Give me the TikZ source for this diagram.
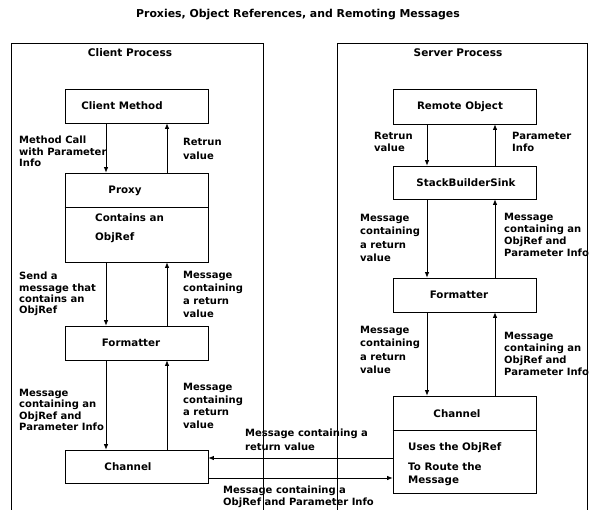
\documentclass[tikz,border=0pt]{standalone}
\usepackage{fontspec}
\setmainfont{DejaVu Sans}
\usetikzlibrary{arrows.meta,calc}
\begin{document}
\begin{tikzpicture}[x=1pt,y=-1pt,
  box/.style={draw,line width=0.8pt,minimum width=143pt,inner sep=0pt},
  txt/.style={inner sep=0pt,font=\fontsize{10.3}{12}\selectfont\bfseries},
  arr/.style={line width=0.7pt,-{Latex[length=5.5pt,width=4.5pt]}},
  lab/.style={font=\fontsize{10}{#1}\selectfont\bfseries,align=left,anchor=north west,inner sep=0pt},
  lab/.default=12,
  ttl/.style={font=\fontsize{10.5}{12}\selectfont\bfseries,inner sep=0pt},
  proc/.style={line width=0.8pt}]
\useasboundingbox (0,0) rectangle (596,510);
% title
\node[inner sep=0pt,font=\fontsize{10.9}{12}\selectfont\bfseries] (title) at (298,15) {Proxies, Object References, and Remoting Messages};
% process frames
\draw[proc] (11,510) -- (11,43) -- (263,43) -- (263,510);
\draw[proc] (337,510) -- (337,43) -- (587,43) -- (587,510);
\node[ttl] (cproc) at (130,53) {Client Process};
\node[ttl] (sproc) at (458,53) {Server Process};
% client boxes
\node[box,minimum height=34pt] (cm) at (136.5,106) {};
\node[txt] (cmt) at (122,106) {Client Method};
\node[box,minimum height=89pt] (proxy) at (136.5,217.5) {};
\coordinate (pdiv) at (0,207);
\draw[line width=0.8pt] (proxy.west |- pdiv) -- (proxy.east |- pdiv);
\node[txt] (proxyt) at (125,191) {Proxy};
\node[txt,anchor=west] (pc1) at (95,218) {Contains an};
\node[txt,anchor=west] (pc2) at (95,238) {ObjRef};
\node[box,minimum height=34pt] (cfmt) at (136.5,343) {};
\node[txt] (cfmtt) at (131,343) {Formatter};
\node[box,minimum height=33pt] (cchan) at (136.5,466.5) {};
\node[txt] (cchant) at (128,466.5) {Channel};
% server boxes
\node[box,minimum height=35pt] (ro) at (464.5,106.5) {};
\node[txt] (rot) at (460,106.5) {Remote Object};
\node[box,minimum height=33pt] (sbs) at (464.5,182.5) {};
\node[txt] (sbst) at (466,182.5) {StackBuilderSink};
\node[box,minimum height=34pt] (sfmt) at (464.5,295) {};
\node[txt] (sfmtt) at (459,295) {Formatter};
\node[box,minimum height=97pt] (schan) at (464.5,444.5) {};
\coordinate (sdiv) at (0,430);
\draw[line width=0.8pt] (schan.west |- sdiv) -- (schan.east |- sdiv);
\node[txt] (schant) at (457,414) {Channel};
\node[txt,anchor=west] (sc1) at (408,448) {Uses the ObjRef};
\node[txt,anchor=west] (sc2) at (408,467) {To Route the};
\node[txt,anchor=west] (sc3) at (408,481) {Message};
% client arrows
\coordinate (cx1) at (106,0);
\coordinate (cx2) at (167,0);
\draw[arr] (cm.south -| cx1) -- (proxy.north -| cx1);
\draw[arr] (proxy.north -| cx2) -- (cm.south -| cx2);
\draw[arr] (proxy.south -| cx1) -- (cfmt.north -| cx1);
\draw[arr] (cfmt.north -| cx2) -- (proxy.south -| cx2);
\draw[arr] (cfmt.south -| cx1) -- (cchan.north -| cx1);
\draw[arr] (cchan.north -| cx2) -- (cfmt.south -| cx2);
% server arrows
\coordinate (sx1) at (427,0);
\coordinate (sx2) at (495,0);
\draw[arr] (ro.south -| sx1) -- (sbs.north -| sx1);
\draw[arr] (sbs.north -| sx2) -- (ro.south -| sx2);
\draw[arr] (sbs.south -| sx1) -- (sfmt.north -| sx1);
\draw[arr] (sfmt.north -| sx2) -- (sbs.south -| sx2);
\draw[arr] (sfmt.south -| sx1) -- (schan.north -| sx1);
\draw[arr] (schan.north -| sx2) -- (sfmt.south -| sx2);
% channel to channel
\coordinate (hy1) at (0,458);
\coordinate (hy2) at (0,478);
\draw[arr] (schan.west |- hy1) -- (cchan.east |- hy1);
\draw[arr] (cchan.east |- hy2) -- (schan.west |- hy2);
% labels
\node[lab=11.5] (l1) at (19,136) {Method Call\\with Parameter\\Info};
\node[lab=14] (l2) at (183,138) {Retrun\\value};
\node[lab=11.3] (l3) at (19,272) {Send a\\message that\\contains an\\ObjRef};
\node[lab=13] (l4) at (183,271) {Message\\containing\\a return\\value};
\node[lab=11.3] (l5) at (19,389) {Message\\containing an\\ObjRef and\\Parameter Info};
\node[lab=12.7] (l6) at (183,383) {Message\\containing\\a return\\value};
\node[lab=12] (l7) at (374,132) {Retrun\\value};
\node[lab=12] (l8) at (512,132) {Parameter\\Info};
\node[lab=13.3] (l9) at (360,214) {Message\\containing\\a return\\value};
\node[lab=12] (l10) at (504,213) {Message\\containing an\\ObjRef and\\Parameter Info};
\node[lab=13.3] (l11) at (360,326) {Message\\containing\\a return\\value};
\node[lab=12] (l12) at (504,332) {Message\\containing an\\ObjRef and\\Parameter Info};
\node[lab=14] (l13) at (245,429) {Message containing a\\return value};
\node[lab=12] (l14) at (223,486) {Message containing a\\ObjRef and Parameter Info};
\end{tikzpicture}
\end{document}
